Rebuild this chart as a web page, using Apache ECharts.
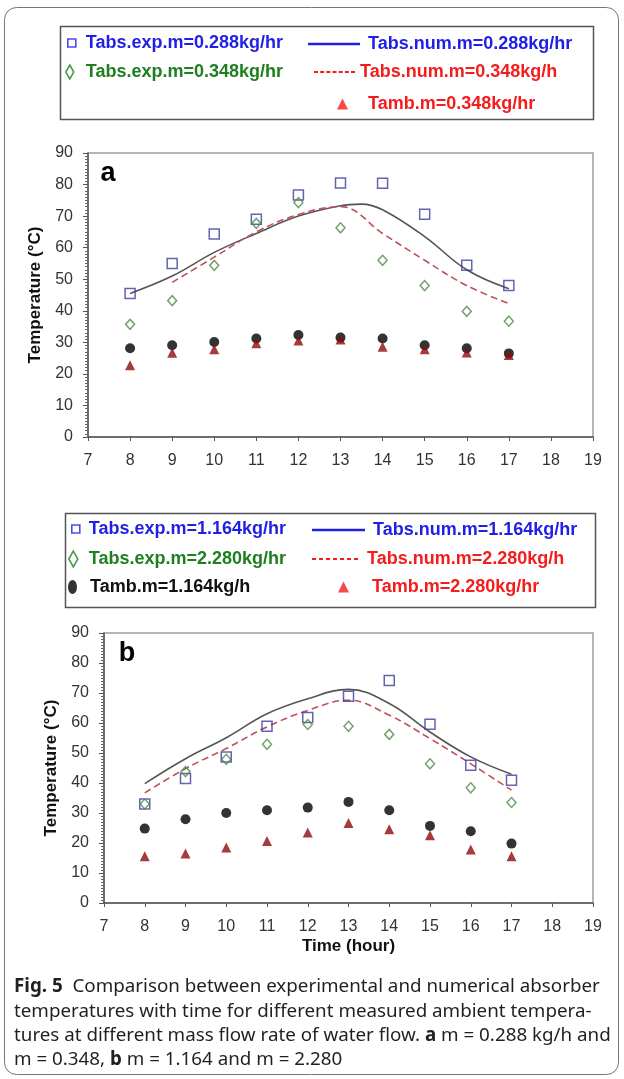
<!DOCTYPE html>
<html>
<head>
<meta charset="utf-8">
<script src="https://cdn.jsdelivr.net/npm/echarts@6/dist/echarts.min.js"></script>
<style>
html, body { margin: 0; padding: 0; background: #fff; }
#chart { width: 624px; height: 1079px; }
</style>
</head>
<body>
<div id="chart"></div>
<script>
// time axis (hour)
var xTicks = [7, 8, 9, 10, 11, 12, 13, 14, 15, 16, 17, 18, 19];
var yTicks = [0, 10, 20, 30, 40, 50, 60, 70, 80, 90];
var hours = [8, 9, 10, 11, 12, 13, 14, 15, 16, 17];

// panel a : m = 0.288 / 0.348 kg/hr
var aExp288 = [45.5, 55, 64.3, 69, 76.7, 80.5, 80.4, 70.6, 54.4, 48];
var aExp348 = [35.7, 43.2, 54.4, 67.7, 74.3, 66.3, 56, 48, 39.8, 36.7];
var aAmb288 = [28.1, 29.1, 30.1, 31.2, 32.3, 31.5, 31.2, 29.1, 28.1, 26.5];
var aAmb348 = [22.7, 26.7, 27.8, 29.7, 30.6, 30.9, 28.6, 27.8, 26.8, 26];
var aNumHours288 = [8, 9, 10, 11, 12, 13, 13.5, 14, 15, 16, 17];
var aNum288 = [45.5, 51, 58.5, 64.5, 70, 73.3, 73.8, 72, 63.5, 53, 47];
var aNumHours348 = [9, 10, 11, 12, 13, 14, 15, 16, 17];
var aNum348 = [49, 57, 65, 70.5, 73, 64.5, 56, 48, 42.3];

// panel b : m = 1.164 / 2.280 kg/hr
var bExp1164 = [33, 41.5, 48.7, 58.9, 61.8, 68.9, 74.2, 59.6, 45.9, 40.9];
var bExp2280 = [33, 43.8, 47.9, 52.9, 59.5, 58.9, 56.2, 46.4, 38.4, 33.5];
var bAmb1164 = [24.8, 27.9, 30, 30.9, 31.8, 33.7, 30.9, 25.7, 23.9, 19.8];
var bAmb2280 = [15.6, 16.5, 18.5, 20.7, 23.5, 26.7, 24.6, 22.6, 17.8, 15.6];
var bNum1164 = [39.8, 48.1, 55.1, 63.1, 68.1, 71.2, 66.5, 57, 48.7, 42.9];
var bNum2280 = [36.7, 44.8, 51.5, 58.7, 64.2, 67.6, 62.6, 54.8, 46.4, 37.6];

var captionLines = [
  '{b|Fig. 5}  Comparison between experimental and numerical absorber',
  'temperatures with time for different measured ambient tempera-',
  'tures at different mass flow rate of water flow. {b|a} m = 0.288 kg/h and',
  'm = 0.348, {b|b} m = 1.164 and m = 2.280'
];

var FONT = "'Liberation Sans', Arial, sans-serif";
var CAP_FONT = "'Noto Sans', sans-serif";
var SQ_COLOR = '#3c3c9c';
var DIA_COLOR = '#4f8a47';
var TRI_COLOR = '#8e0a0a';
var SOLID_COLOR = '#555555';
var DASH_COLOR = '#c0505a';

function pts(xs, ys) {
  return xs.map(function (x, i) { return [x, ys[i]]; });
}

var chart = echarts.init(document.getElementById('chart'));

function xAxis(gi, name) {
  return {
    gridIndex: gi, type: 'value',
    min: xTicks[0], max: xTicks[xTicks.length - 1], interval: 1,
    name: name || '', nameLocation: 'middle', nameGap: 35,
    nameTextStyle: { fontFamily: FONT, fontSize: 17, fontWeight: 'bold', color: '#111' },
    axisLine: { lineStyle: { color: '#555', width: 1.5 } },
    axisTick: { show: true, length: 4, lineStyle: { color: '#555' } },
    axisLabel: { margin: 16, fontFamily: FONT, fontSize: 16, color: '#333' },
    splitLine: { show: false }
  };
}
function yAxis(gi, gap) {
  return {
    gridIndex: gi, type: 'value',
    min: yTicks[0], max: yTicks[yTicks.length - 1], interval: 10,
    name: 'Temperature (°C)', nameLocation: 'middle', nameGap: gap,
    nameTextStyle: { fontFamily: FONT, fontSize: 17, fontWeight: 'bold', color: '#111' },
    axisLine: { lineStyle: { color: '#555', width: 1.5 } },
    axisTick: { show: true, length: 5, lineStyle: { color: '#555' } },
    minorTick: { show: true, splitNumber: 10, length: 3, lineStyle: { color: '#666' } },
    axisLabel: { margin: 15, fontFamily: FONT, fontSize: 16, color: '#333' },
    splitLine: { show: false }
  };
}

function expSeries(name, gi, data, symbol, size, color) {
  return {
    name: name, type: 'scatter', xAxisIndex: gi, yAxisIndex: gi,
    symbol: symbol, symbolSize: size, z: 3,
    itemStyle: { color: 'rgba(0,0,0,0)', borderColor: color, borderWidth: 1.5 },
    data: pts(hours, data)
  };
}
function ambSeries(name, gi, data, symbol, size, color) {
  return {
    name: name, type: 'scatter', xAxisIndex: gi, yAxisIndex: gi,
    symbol: symbol, symbolSize: size, z: symbol === 'triangle' ? 4 : 3,
    itemStyle: { color: color },
    data: pts(hours, data)
  };
}
function numSeries(name, gi, xs, data, color, dashed) {
  return {
    name: name, type: 'line', xAxisIndex: gi, yAxisIndex: gi,
    symbol: 'none', smooth: 0.4, z: 2,
    lineStyle: { color: color, width: 1.6, type: dashed ? [7, 4] : 'solid' },
    data: pts(xs, data)
  };
}

// legend icons
var ICON_SQ = 'path://M0,0H8V8H0Z';
var ICON_DIA = 'path://M4,0L8,7L4,14L0,7Z';
var ICON_TRI = 'path://M5.5,0L11,11L0,11Z';
var ICON_ELL = 'path://M4.5,0A4.5,7,0,1,1,4.5,14A4.5,7,0,1,1,4.5,0Z';
function lineIcon(w) { return 'path://M0,0H' + w + 'V2.5H0Z'; }
function dashIcon(w) {
  var p = '', step = (w - 4) / 6;
  for (var i = 0; i < 7; i++) {
    var x = (i * step).toFixed(2);
    p += 'M' + x + ',0h4v2h-4Z';
  }
  return 'path://' + p;
}

function leg(name, left, yc, icon, iw, itemStyle, textColor, pad) {
  return {
    data: [{ name: name, icon: icon, itemStyle: itemStyle }],
    left: left, top: yc - 10, itemWidth: iw, itemHeight: 20,
    padding: 0, selectedMode: false, symbolKeepAspect: true,
    textStyle: {
      color: textColor, fontFamily: FONT, fontSize: 18, fontWeight: 'bold',
      lineHeight: 20, padding: [0, 0, 0, pad]
    }
  };
}
var BLUE = '#1f1fe6', GREEN = '#1d7f1d', RED = '#f51c1c';
var openStyle = function (c) { return { color: '#fff', borderColor: c, borderWidth: 1.6 }; };
var fillStyle = function (c) { return { color: c, borderWidth: 0 }; };

var legends = [
  leg('Tabs.exp.m=0.288kg/hr', 67, 43, ICON_SQ, 8, openStyle(BLUE), BLUE, 5),
  leg('Tabs.exp.m=0.348kg/hr', 65, 72, ICON_DIA, 8, openStyle(GREEN), GREEN, 7),
  leg('Tabs.num.m=0.288kg/hr', 308, 44, lineIcon(52), 52, fillStyle(BLUE), BLUE, 3),
  leg('Tabs.num.m=0.348kg/h', 314, 72, dashIcon(41), 41, fillStyle(RED), RED, 0),
  leg('Tamb.m=0.348kg/hr', 337, 104, ICON_TRI, 11, fillStyle(RED), RED, 15),

  leg('Tabs.exp.m=1.164kg/hr', 71, 529, ICON_SQ, 8, openStyle(BLUE), BLUE, 4),
  leg('Tabs.exp.m=2.280kg/hr', 68, 559, ICON_DIA, 9, openStyle(GREEN), GREEN, 6),
  leg('Tamb.m=1.164kg/h', 68, 587, ICON_ELL, 9, fillStyle('#000'), '#111', 8),
  leg('Tabs.num.m=1.164kg/hr', 312, 530, lineIcon(53), 53, fillStyle(BLUE), BLUE, 3),
  leg('Tabs.num.m=2.280kg/h', 312, 559, dashIcon(46), 46, fillStyle(RED), RED, 4),
  leg('Tamb.m=2.280kg/hr', 338, 587, ICON_TRI, 11, fillStyle(RED), RED, 18)
];

var graphics = [
  { type: 'rect', shape: { x: 4.5, y: 7.5, width: 614, height: 1067, r: 12 },
    style: { fill: 'none', stroke: '#777', lineWidth: 1 }, silent: true },
  { type: 'rect', shape: { x: 60.5, y: 26.5, width: 533, height: 93 },
    style: { fill: 'none', stroke: '#555', lineWidth: 1.5 }, z: -1 },
  { type: 'rect', shape: { x: 65.5, y: 513.5, width: 530, height: 94 },
    style: { fill: 'none', stroke: '#555', lineWidth: 1.5 }, z: -1 },
  { type: 'text', x: 108, y: 174,
    style: { text: 'a', font: 'bold 27px ' + FONT, fill: '#000', textAlign: 'center', textVerticalAlign: 'middle' } },
  { type: 'text', x: 127, y: 654,
    style: { text: 'b', font: 'bold 27px ' + FONT, fill: '#000', textAlign: 'center', textVerticalAlign: 'middle' } }
];
var captionY = [987, 1012, 1036, 1060];
captionLines.forEach(function (t, i) {
  graphics.push({
    type: 'text', x: 14, y: captionY[i],
    style: {
      text: t, fill: '#231f20', fontFamily: CAP_FONT, fontSize: 18.8,
      textVerticalAlign: 'middle',
      rich: { b: { fontWeight: 'bold', fontFamily: CAP_FONT, fontSize: 18.8, fill: '#231f20' } }
    }
  });
});

var option = {
  backgroundColor: '#fff',
  animation: false,
  grid: [
    { left: 88, top: 153, width: 505, height: 284, show: true, borderColor: '#a0a0a0', borderWidth: 1.5 },
    { left: 104, top: 633, width: 489, height: 270, show: true, borderColor: '#a0a0a0', borderWidth: 1.5 }
  ],
  xAxis: [xAxis(0), xAxis(1, 'Time (hour)')],
  yAxis: [yAxis(0, 39), yAxis(1, 41)],
  legend: legends,
  graphic: graphics,
  series: [
    numSeries('Tabs.num.m=0.288kg/hr', 0, aNumHours288, aNum288, SOLID_COLOR, false),
    numSeries('Tabs.num.m=0.348kg/h', 0, aNumHours348, aNum348, DASH_COLOR, true),
    expSeries('Tabs.exp.m=0.288kg/hr', 0, aExp288, 'rect', 10, SQ_COLOR),
    expSeries('Tabs.exp.m=0.348kg/hr', 0, aExp348, 'diamond', [9, 10], DIA_COLOR),
    ambSeries('Tamb.m=0.288kg/hr', 0, aAmb288, 'circle', 10, '#000'),
    ambSeries('Tamb.m=0.348kg/hr', 0, aAmb348, 'triangle', 10, TRI_COLOR),

    numSeries('Tabs.num.m=1.164kg/hr', 1, hours, bNum1164, SOLID_COLOR, false),
    numSeries('Tabs.num.m=2.280kg/h', 1, hours, bNum2280, DASH_COLOR, true),
    expSeries('Tabs.exp.m=1.164kg/hr', 1, bExp1164, 'rect', 10, SQ_COLOR),
    expSeries('Tabs.exp.m=2.280kg/hr', 1, bExp2280, 'diamond', [9, 10], DIA_COLOR),
    ambSeries('Tamb.m=1.164kg/h', 1, bAmb1164, 'circle', 10, '#000'),
    ambSeries('Tamb.m=2.280kg/hr', 1, bAmb2280, 'triangle', 10, TRI_COLOR)
  ]
};
chart.setOption(option);
</script>
</body>
</html>
